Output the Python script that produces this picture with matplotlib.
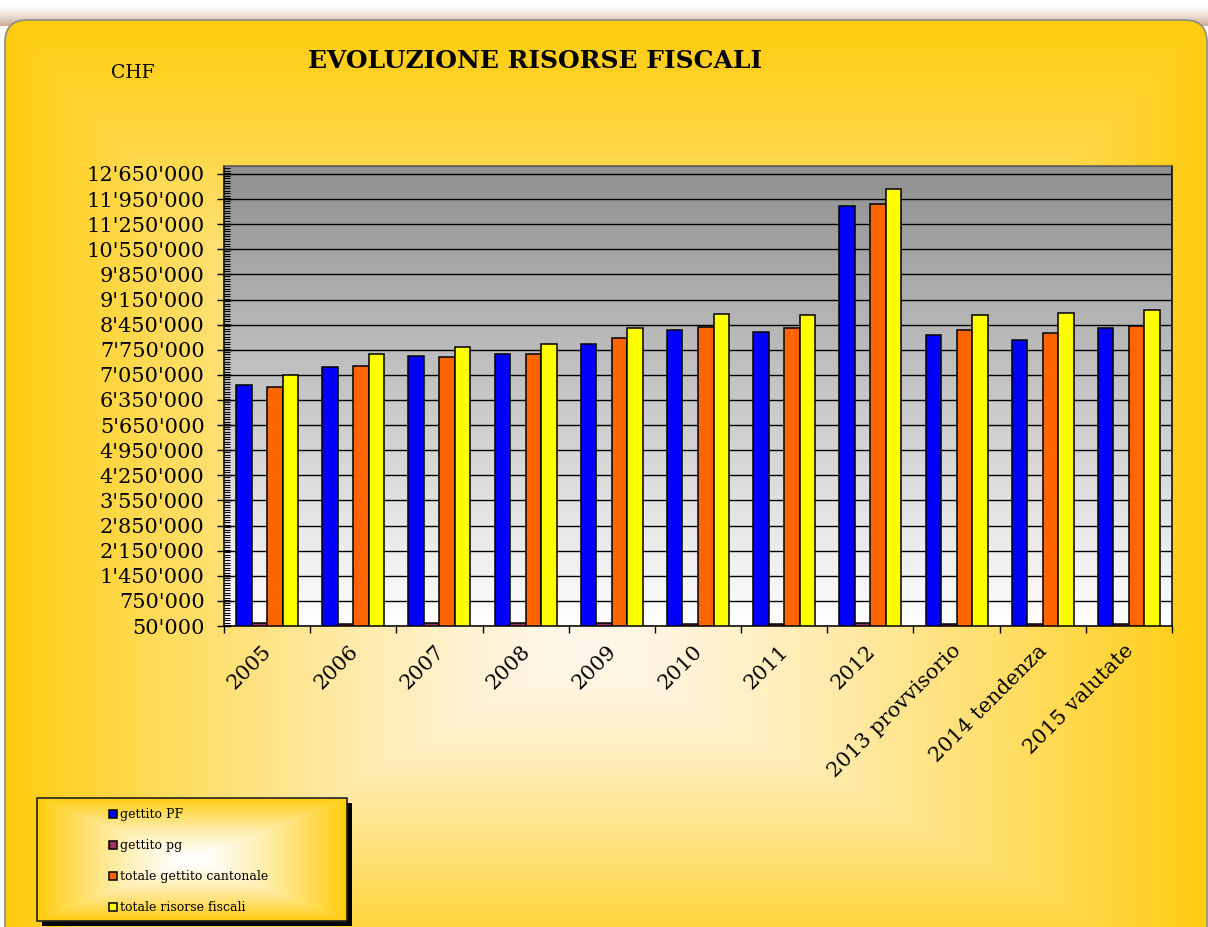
import numpy as np
import matplotlib
matplotlib.use('Agg')
import matplotlib.pyplot as plt
import matplotlib.transforms as mtransforms
from matplotlib.patches import FancyBboxPatch, Rectangle
from matplotlib.ticker import MultipleLocator, FuncFormatter

# ---------------- data ----------------
categories = ['2005', '2006', '2007', '2008', '2009', '2010', '2011', '2012',
              '2013 provvisorio', '2014 tendenza', '2015 valutate']
gettito_pf = [6760000, 7280000, 7577000, 7641000, 7903000, 8302000,
              8255000, 11758000, 8162000, 8032000, 8366000]
gettito_pg = [142000, 114000, 133000, 142000, 133000, 97000,
              106000, 125000, 97000, 114000, 97000]
totale_cantonale = [6721000, 7306000, 7558000, 7633000, 8079000, 8385000,
                    8366000, 11814000, 8293000, 8209000, 8404000]
totale_risorse = [7039000, 7624000, 7828000, 7920000, 8366000, 8748000,
                  8720000, 12224000, 8711000, 8784000, 8859000]
series_names = ['gettito PF', 'gettito pg', 'totale gettito cantonale',
                'totale risorse fiscali']
y_ticks = list(range(50000, 12650001, 700000))
y_min, y_max = 50000, 12873000

title = 'EVOLUZIONE RISORSE FISCALI'
unit_label = 'CHF'

colors = ['#0000FF', '#993366', '#FF6600', '#FFFF00']
FONT = 'DejaVu Serif'

W, H = 1208, 927
fig = plt.figure(figsize=(W / 100, H / 100), dpi=100)
fig.patch.set_facecolor('white')

# ---------------- background ----------------
bg = fig.add_axes([0, 0, 1, 1])
bg.set_xlim(0, W)
bg.set_ylim(H, 0)
bg.axis('off')

# shadow band above the frame
yy = np.linspace(0, 1, 40)[:, None, None]
c_top = np.array([1.0, 1.0, 1.0])
c_bot = np.array([0.80, 0.67, 0.58])
band = c_top + (c_bot - c_top) * yy ** 1.5
band = np.repeat(band, 2, axis=1)
bg.imshow(band, extent=(0, W, 26, 4), aspect='auto', zorder=0)

yg, xg = np.mgrid[0:H, 0:W] + 0.5
cx, cy = 585, 650
tx = np.where(xg < cx, (cx - xg) / 580, (xg - cx) / 625)
ty = np.where(yg < cy, (cy - yg) / 630, (yg - cy) / 330)
t = np.clip(np.maximum(tx, ty), 0, 1) ** 1.35
c0 = np.array([255, 247, 234]) / 255
c1 = np.array([255, 204, 12]) / 255
img = c0 + (c1 - c0) * t[..., None]
frame = FancyBboxPatch((5, 20), 1202, H + 60,
                       boxstyle='round,pad=0,rounding_size=22',
                       facecolor='none', edgecolor='#8a8a8a', lw=1.2,
                       zorder=2)
bg.add_patch(frame)
im = bg.imshow(img, extent=(0, W, H, 0), aspect='auto', zorder=1)
im.set_clip_path(frame)

# title texts
fig.text(535 / W, 1 - 61 / H, title, ha='center', va='center',
         fontsize=18, fontweight='bold', family=FONT)
fig.text(133 / W, 1 - 73 / H, unit_label, ha='center', va='center',
         fontsize=13.5, family=FONT)

# ---------------- plot area ----------------
ax = fig.add_axes([224 / W, 1 - 626 / H, 948 / W, 460 / H])
x = np.arange(len(categories))
ax.set_xlim(-0.5, len(categories) - 0.5)
ax.set_ylim(y_min, y_max)

grad = np.linspace(0.56, 1.0, 256)[:, None]
grad_rgb = np.repeat(grad[:, :, None], 3, axis=2)
ax.imshow(grad_rgb, extent=(-0.5, len(categories) - 0.5, y_min, y_max),
          origin='upper', aspect='auto', zorder=0)

w = 0.18
series = [gettito_pf, gettito_pg, totale_cantonale, totale_risorse]
handles = []
for i, (vals, col, name) in enumerate(zip(series, colors, series_names)):
    b = ax.bar(x + (i - 1.5) * w, vals, width=w, color=col,
               edgecolor='black', linewidth=1.1, label=name, zorder=2)
    handles.append(b)

ax.set_yticks(y_ticks)
ax.yaxis.set_major_formatter(FuncFormatter(lambda v, p: f"{int(round(v)):,}".replace(',', "'")))
ax.yaxis.set_minor_locator(MultipleLocator(70000))
ax.yaxis.grid(True, which='major', color='black', lw=1.0, zorder=1)
ax.set_axisbelow(True)
ax.tick_params(axis='y', which='major', direction='inout', length=10,
               width=1, pad=9, labelsize=15)
ax.tick_params(axis='y', which='minor', direction='in', length=4, width=0.8)

ax.set_xticks(np.arange(-0.5, len(categories)))
ax.set_xticklabels([])
ax.set_xticks(x, minor=True)
ax.set_xticklabels(categories, minor=True, rotation=45, ha='right',
                   va='top', rotation_mode='anchor')
ax.tick_params(axis='x', which='major', direction='out', length=5, width=1)
ax.tick_params(axis='x', which='minor', length=0, pad=11, labelsize=15)
shift = mtransforms.ScaledTranslation(-5 / 100, 0, fig.dpi_scale_trans)
for lab in ax.get_xticklabels(minor=True):
    lab.set_family(FONT)
    lab.set_transform(lab.get_transform() + shift)
for lab in ax.get_yticklabels():
    lab.set_family(FONT)

for s in ['left', 'bottom', 'right']:
    ax.spines[s].set_color('black')
    ax.spines[s].set_linewidth(1.1)
ax.spines['top'].set_color('#555555')
ax.spines['top'].set_linewidth(1.1)

# ---------------- legend ----------------
lx0, ly0, lx1, ly1 = 37, 798, 347, 921
bg.add_patch(Rectangle((lx0 + 5, ly0 + 5), lx1 - lx0, ly1 - ly0,
                       facecolor='black', edgecolor='none', zorder=3))
lyg, lxg = np.mgrid[0:124, 0:310] + 0.5
ltx = np.abs(lxg - 155) / 155
lty = np.abs(lyg - 62) / 62
lt = np.clip(np.maximum(ltx, lty), 0, 1) ** 1.4
limg = np.array([1, 1, 1]) + (c1 - np.array([1, 1, 1])) * lt[..., None]
bg.imshow(limg, extent=(lx0, lx1, ly1, ly0), aspect='auto', zorder=4)
bg.add_patch(Rectangle((lx0, ly0), lx1 - lx0, ly1 - ly0,
                       facecolor='none', edgecolor='#222222', lw=1.2,
                       zorder=5))
leg = bg.legend(handles=handles, labels=series_names, loc='upper left',
                bbox_to_anchor=(109, 808), bbox_transform=bg.transData,
                frameon=False, prop={'family': FONT, 'size': 9},
                labelspacing=1.45, handlelength=0.6, handleheight=0.6,
                handletextpad=0.3, borderpad=0, borderaxespad=0)
leg.set_zorder(6)

fig.savefig('out.png', dpi=100, facecolor='white')
